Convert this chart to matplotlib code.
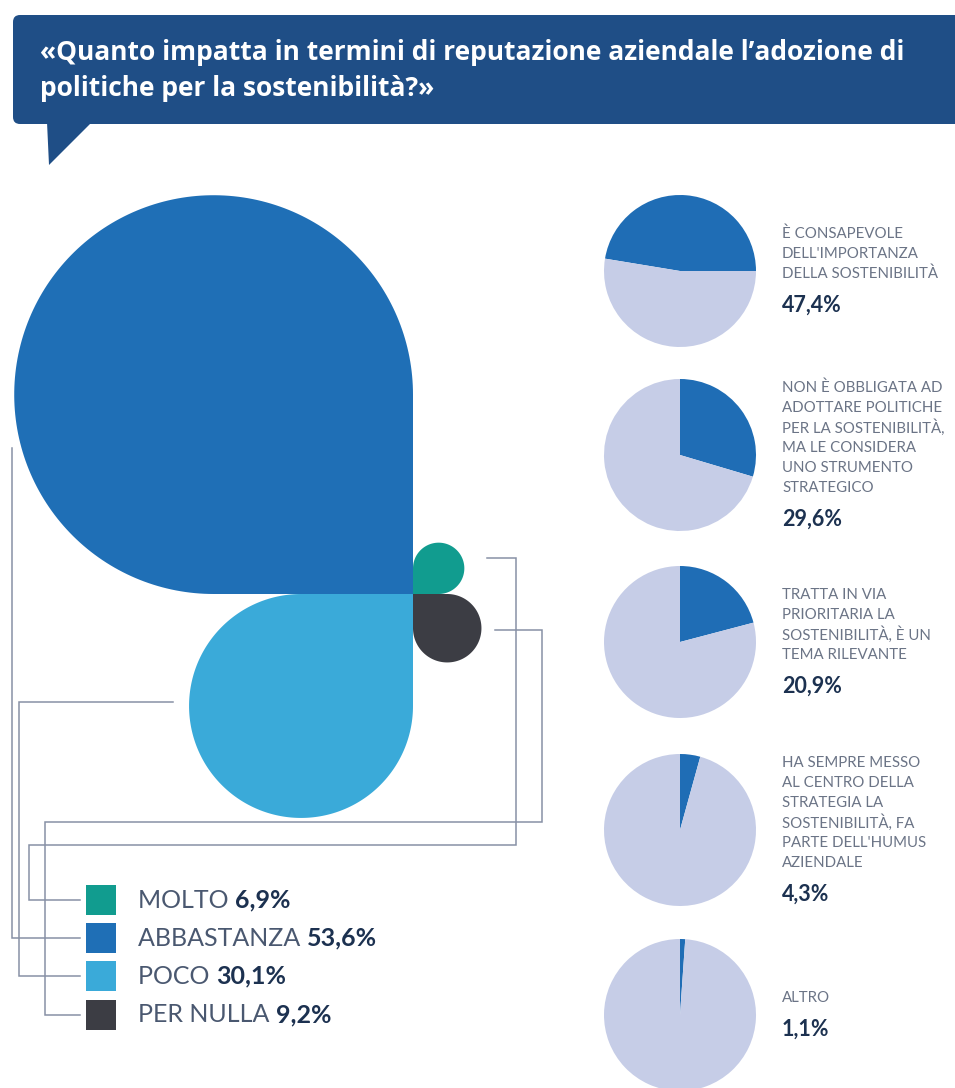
import matplotlib
matplotlib.use("Agg")
import matplotlib.pyplot as plt
import numpy as np
from matplotlib.patches import Polygon, FancyBboxPatch, Rectangle

W, H = 955, 1088

title_lines = [
    "«Quanto impatta in termini di reputazione aziendale l’adozione di",
    "politiche per la sostenibilità?»",
]

# petal chart
categories = ["MOLTO", "ABBASTANZA", "POCO", "PER NULLA"]
values = [6.9, 53.6, 30.1, 9.2]
petal_colors = ["#119c8f", "#1f6fb6", "#3aaad9", "#3c3d44"]

# side pies
side_labels = [
    ["È CONSAPEVOLE", "DELL'IMPORTANZA", "DELLA SOSTENIBILITÀ"],
    ["NON È OBBLIGATA AD", "ADOTTARE POLITICHE", "PER LA SOSTENIBILITÀ,",
     "MA LE CONSIDERA", "UNO STRUMENTO", "STRATEGICO"],
    ["TRATTA IN VIA", "PRIORITARIA LA", "SOSTENIBILITÀ, È UN", "TEMA RILEVANTE"],
    ["HA SEMPRE MESSO", "AL CENTRO DELLA", "STRATEGIA LA",
     "SOSTENIBILITÀ, FA", "PARTE DELL'HUMUS", "AZIENDALE"],
    ["ALTRO"],
]
side_values = [47.4, 29.6, 20.9, 4.3, 1.1]

NAVY = "#1f4e86"
LINE = "#8791a6"
LABEL = "#4a5870"
NUM = "#1c3150"
PIE_DARK = "#1f6db5"
PIE_LIGHT = "#c6cde7"
FONT = "Lato"


def Y(y):
    # image rows count downwards, the axes count upwards
    return H - y


def fmt(v):
    return f"{v:.1f}".replace(".", ",") + "%"


def petal(ax, cx, cy, r, sx, sy, color):
    """Circle of radius r with its corner squared off at (cx, cy)."""
    ox, oy = cx + sx * r, cy + sy * r
    phi = np.arctan2(-sy, -sx)
    t = np.linspace(phi + np.pi / 4, phi + np.pi / 4 + 1.5 * np.pi, 200)
    pts = np.column_stack([ox + r * np.cos(t), oy + r * np.sin(t)])
    pts = np.vstack([[cx, cy], pts])
    ax.add_patch(Polygon(pts, closed=True, facecolor=color, edgecolor="none"))


fig = plt.figure(figsize=(W / 100, H / 100), dpi=100)
ax = fig.add_axes([0, 0, 1, 1])
ax.set_xlim(0, W)
ax.set_ylim(0, H)
ax.set_axis_off()
renderer = fig.canvas.get_renderer()

# title banner with speech-bubble tail
ax.add_patch(FancyBboxPatch((13, Y(124)), 980, 109,
                            boxstyle="round,pad=0,rounding_size=7",
                            facecolor=NAVY, edgecolor="none"))
ax.add_patch(Polygon([(47, Y(122)), (92, Y(122)), (49, Y(165))],
                     closed=True, facecolor=NAVY, edgecolor="none"))
for i, line in enumerate(title_lines):
    ax.text(40, Y(52 + 36 * i), line, color="white", fontsize=19,
            fontweight="bold", family="Open Sans", va="center", ha="left")

# petals around a common corner
cx, cy = 413, Y(594)
k = 3.72  # px per percentage point
radii = [k * v for v in values]
quadrants = [(1, 1), (-1, 1), (-1, -1), (1, -1)]
for r, (sx, sy), c in zip(radii, quadrants, petal_colors):
    petal(ax, cx, cy, r, sx, sy, c)

# legend rows
row_y = [900, 938, 976, 1015]
for name, v, c, ry in zip(categories, values, petal_colors, row_y):
    ax.add_patch(Rectangle((86, Y(ry) - 15), 30, 30, facecolor=c, edgecolor="none"))
    t = ax.text(138, Y(ry), name + " ", color=LABEL, fontsize=18, family=FONT,
                va="center", ha="left")
    bb = t.get_window_extent(renderer)
    x_end = ax.transData.inverted().transform((bb.x1, bb.y0))[0]
    ax.text(x_end, Y(ry), fmt(v), color=NUM, fontsize=18, family=FONT,
            fontweight="bold", va="center", ha="left")

# connector lines from petals to legend rows
poco_x = 413 - 2 * radii[2] - 16
routes = [
    [(487, 558), (516, 558), (516, 845), (29, 845), (29, row_y[0]), (80, row_y[0])],
    [(12, 448), (12, row_y[1]), (80, row_y[1])],
    [(poco_x, 702), (19, 702), (19, row_y[2]), (80, row_y[2])],
    [(495, 630), (542, 630), (542, 822), (45, 822), (45, row_y[3]), (80, row_y[3])],
]
for r in routes:
    xs, ys = zip(*r)
    ax.plot(xs, [Y(y) for y in ys], color=LINE, lw=1.1, solid_joinstyle="miter")

# side pies with their captions
pie_x, pie_r = 680, 76
pie_y = [271, 455, 642, 830, 1015]
for i, (lines, v, py) in enumerate(zip(side_labels, side_values, pie_y)):
    if i == 0:
        start, ccw = 0, True
    else:
        start, ccw = 90, False
    ax.pie([v, 100 - v], colors=[PIE_DARK, PIE_LIGHT], center=(pie_x, Y(py)),
           radius=pie_r, startangle=start, counterclock=ccw,
           wedgeprops=dict(linewidth=0), frame=True)
    n = len(lines)
    y1 = py - (20 * (n - 1) + 30) / 2 - 2
    for j, line in enumerate(lines):
        ax.text(782, Y(y1 + 20 * j), line, color="#6b7486", fontsize=10.8,
                family=FONT, va="center", ha="left")
    ax.text(782, Y(y1 + 20 * (n - 1) + 31), fmt(v), color=NUM, fontsize=15.5,
            family=FONT, fontweight="bold", va="center", ha="left")

ax.set_xlim(0, W)
ax.set_ylim(0, H)
ax.set_aspect("auto")
ax.set_axis_off()

fig.savefig("out.png", dpi=100, facecolor="white")
